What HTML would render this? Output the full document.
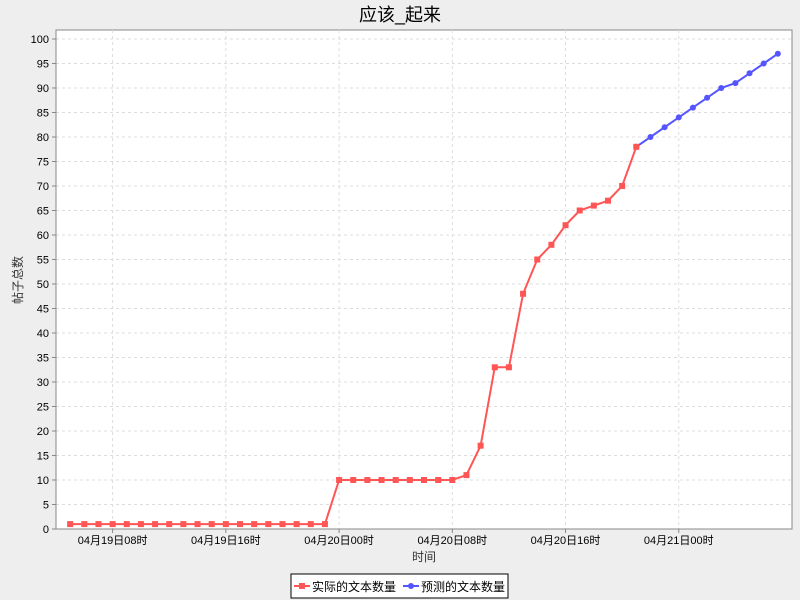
<!DOCTYPE html>
<html><head><meta charset="utf-8"><style>
body{margin:0;background:#eeeeee;}
svg{display:block;font-family:"Liberation Sans","Noto Sans CJK SC",sans-serif;}
</style></head><body>
<svg id="chart" width="800" height="600">
<rect x="0" y="0" width="800" height="600" fill="#eeeeee"/>
<text x="400" y="21" text-anchor="middle" font-size="18" fill="#000">应该_起来</text>
<rect x="56" y="30" width="736" height="499" fill="#fff" stroke="#888"/>
<g id="grid"></g><g id="axes"></g><g id="series"></g>
<text x="22" y="280" font-size="12" text-anchor="middle" transform="rotate(-90 22 280)" fill="#333">帖子总数</text>
<text x="424" y="561" font-size="12" text-anchor="middle" fill="#333">时间</text>
<g>
<rect x="291" y="574" width="217" height="24" fill="#fff" stroke="#000"/>
<g>
<line x1="294" y1="586" x2="310" y2="586" stroke="#ff5555" stroke-width="2"/><rect x="299" y="583" width="6" height="6" fill="#ff5555"/>
<text x="312" y="591" font-size="12" fill="#000">实际的文本数量</text></g>
<g>
<line x1="403" y1="586" x2="419" y2="586" stroke="#5555ff" stroke-width="2"/><circle cx="411" cy="586" r="3" fill="#5555ff"/>
<text x="421" y="591" font-size="12" fill="#000">预测的文本数量</text></g>
</g>
</svg>
<script>
const actualValues=[1,1,1,1,1,1,1,1,1,1,1,1,1,1,1,1,1,1,1,10,10,10,10,10,10,10,10,10,11,17,33,33,48,55,58,62,65,66,67,70,78];
const predictedValues=[78,80,82,84,86,88,90,91,93,95,97];
const predictedStart=40;
const yTicks=[0,5,10,15,20,25,30,35,40,45,50,55,60,65,70,75,80,85,90,95,100];
const xTickIndex=[3,11,19,27,35,43];
const xTickLabels=["04月19日08时","04月19日16时","04月20日00时","04月20日08时","04月20日16时","04月21日00时"];
const NS="http://www.w3.org/2000/svg";
const xs=i=>56+(i+1)*736/52;
const ys=v=>529-(v/100)*490;
function mk(tag,attrs,parent){const e=document.createElementNS(NS,tag);for(const k in attrs)e.setAttribute(k,attrs[k]);parent.appendChild(e);return e;}
const grid=document.getElementById('grid'),axes=document.getElementById('axes'),series=document.getElementById('series');
yTicks.forEach(v=>{
 const l=mk('line',{x1:56,x2:792,y1:ys(v),y2:ys(v),stroke:'#dddddd','stroke-dasharray':'3,3'},grid);
 
 
 mk('line',{x1:52,x2:56,y1:ys(v),y2:ys(v),stroke:'#888'},axes);
 const t=mk('text',{x:49,y:ys(v)+4,'text-anchor':'end','font-size':11,fill:'#000'},axes);t.textContent=v;
 
 
});
xTickIndex.forEach((i,k)=>{
 const l=mk('line',{x1:xs(i),x2:xs(i),y1:30,y2:529,stroke:'#dddddd','stroke-dasharray':'3,3'},grid);
 
 
 mk('line',{x1:xs(i),x2:xs(i),y1:529,y2:533,stroke:'#888'},axes);
 const t=mk('text',{x:xs(i),y:544,'text-anchor':'middle','font-size':11,fill:'#000'},axes);t.textContent=xTickLabels[k];
 
 
});
mk('line',{x1:56,x2:56,y1:30,y2:529,stroke:'#888'},axes);
mk('line',{x1:56,x2:792,y1:529,y2:529,stroke:'#888'},axes);
function draw(vals,start,color,shape,name){
 const p=mk('polyline',{points:vals.map((v,i)=>xs(start+i)+','+ys(v)).join(' '),fill:'none',stroke:color,'stroke-width':2},series);
 
 
 vals.forEach((v,i)=>{
  let m;
  if(shape==='rect')m=mk('rect',{x:xs(start+i)-3,y:ys(v)-3,width:6,height:6,fill:color},series);
  else m=mk('circle',{cx:xs(start+i),cy:ys(v),r:3,fill:color},series);
  
  
 });
}
draw(predictedValues,predictedStart,'#5555ff','circle','predicted');
draw(actualValues,0,'#ff5555','rect','actual');
</script>
</body></html>
